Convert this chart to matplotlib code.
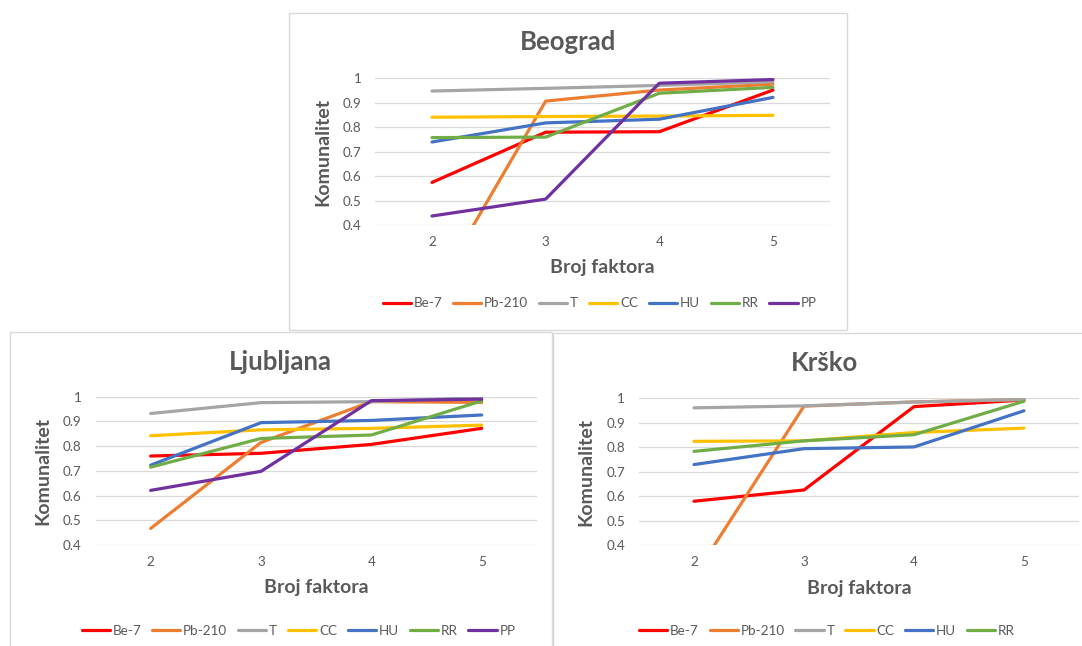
import numpy as np
import matplotlib
matplotlib.use('Agg')
import matplotlib.pyplot as plt
from matplotlib.patches import Rectangle

plt.rcParams['font.family'] = ['Lato', 'DejaVu Sans']

W, H = 1082, 646

broj_faktora = [2, 3, 4, 5]
serije = ['Be-7', 'Pb-210', 'T', 'CC', 'HU', 'RR', 'PP']
boje = ['#FF0000', '#ED7D31', '#A5A5A5', '#FFC000', '#4472C4', '#70AD47', '#7030A0']

beograd_be7 = [0.575, 0.780, 0.782, 0.952]
beograd_pb210 = [0.11, 0.907, 0.952, 0.976]
beograd_t = [0.948, 0.959, 0.971, 0.986]
beograd_cc = [0.841, 0.844, 0.846, 0.849]
beograd_hu = [0.740, 0.818, 0.833, 0.922]
beograd_rr = [0.758, 0.760, 0.939, 0.963]
beograd_pp = [0.438, 0.507, 0.980, 0.995]

ljubljana_be7 = [0.760, 0.771, 0.807, 0.872]
ljubljana_pb210 = [0.467, 0.815, 0.980, 0.977]
ljubljana_t = [0.932, 0.976, 0.980, 0.997]
ljubljana_cc = [0.842, 0.866, 0.872, 0.885]
ljubljana_hu = [0.723, 0.895, 0.904, 0.926]
ljubljana_rr = [0.715, 0.831, 0.845, 0.983]
ljubljana_pp = [0.621, 0.698, 0.984, 0.990]

krsko_be7 = [0.579, 0.625, 0.966, 0.993]
krsko_pb210 = [0.27, 0.968, 0.985, 0.995]
krsko_t = [0.961, 0.969, 0.985, 0.995]
krsko_cc = [0.824, 0.826, 0.860, 0.878]
krsko_hu = [0.729, 0.794, 0.801, 0.949]
krsko_rr = [0.783, 0.826, 0.851, 0.988]

y_ticks = [0.4, 0.5, 0.6, 0.7, 0.8, 0.9, 1.0]
y_tick_labels = ['0.4', '0.5', '0.6', '0.7', '0.8', '0.9', '1']

GRAY = '#595959'


def fx(x):
    return x / W


def fy(y):
    return 1 - y / H


def draw_panel(fig, naslov, podaci, frame, plot, title_y, xlabel_y, ylabel_x, legend_pos):
    # okvir grafikona
    fx0, fy0, fx1, fy1 = frame
    fig.patches.append(Rectangle((fx(fx0), fy(fy1)), fx(fx1) - fx(fx0), fy(fy0) - fy(fy1),
                                 transform=fig.transFigure, fill=False,
                                 edgecolor='#D9D9D9', linewidth=1.0, zorder=0))

    px0, py0, px1, py1 = plot
    ax = fig.add_axes([fx(px0), fy(py1), fx(px1) - fx(px0), fy(py0) - fy(py1)])

    handles = []
    for i, vals in enumerate(podaci):
        ln, = ax.plot(broj_faktora, vals, color=boje[i], linewidth=2.3,
                      solid_capstyle='round', solid_joinstyle='round',
                      label=serije[i], zorder=3)
        handles.append(ln)

    ax.set_xlim(1.5, 5.5)
    ax.set_ylim(0.4, 1.0)
    ax.set_yticks(y_ticks)
    ax.set_yticklabels(y_tick_labels)
    ax.set_xticks(broj_faktora)
    ax.grid(axis='y', color='#D9D9D9', linewidth=0.9)
    ax.set_axisbelow(True)
    for s in ax.spines.values():
        s.set_visible(False)
    ax.tick_params(axis='both', length=0, colors=GRAY, labelsize=9.7)
    ax.tick_params(axis='x', pad=8)
    ax.tick_params(axis='y', pad=10)
    ax.patch.set_alpha(0)

    cx_frame = (fx0 + fx1) / 2
    cx_plot = (px0 + px1) / 2
    cy_plot = (py0 + py1) / 2
    fig.text(fx(cx_frame), fy(title_y), naslov, ha='center', va='center',
             fontsize=18.5, fontweight='bold', color=GRAY)
    fig.text(fx(cx_plot), fy(xlabel_y), 'Broj faktora', ha='center', va='center',
             fontsize=14, fontweight='bold', color=GRAY)
    fig.text(fx(ylabel_x), fy(cy_plot), 'Komunalitet', ha='center', va='center',
             rotation=90, fontsize=14, fontweight='bold', color=GRAY)

    leg = fig.legend(handles=handles, loc='center', ncol=len(handles),
                     bbox_to_anchor=(fx(legend_pos[0]), fy(legend_pos[1])),
                     frameon=False, fontsize=9.7, handlelength=2.1,
                     handletextpad=0.2, columnspacing=0.8, borderaxespad=0)
    for t in leg.get_texts():
        t.set_color(GRAY)
    return ax


fig = plt.figure(figsize=(W / 100, H / 100), dpi=100)
fig.patch.set_facecolor('white')

draw_panel(fig, 'Beograd',
           [beograd_be7, beograd_pb210, beograd_t, beograd_cc, beograd_hu, beograd_rr, beograd_pp],
           frame=(288.5, 13.3, 846.7, 330),
           plot=(375.2, 78.3, 829.8, 225.3),
           title_y=42, xlabel_y=268, ylabel_x=323, legend_pos=(599.5, 303.3))

draw_panel(fig, 'Ljubljana',
           [ljubljana_be7, ljubljana_pb210, ljubljana_t, ljubljana_cc, ljubljana_hu, ljubljana_rr, ljubljana_pp],
           frame=(10, 331.7, 551.7, 660),
           plot=(95.5, 396.7, 536.9, 545),
           title_y=361.7, xlabel_y=588, ylabel_x=43, legend_pos=(298.5, 631))

draw_panel(fig, 'Krško',
           [krsko_be7, krsko_pb210, krsko_t, krsko_cc, krsko_hu, krsko_rr],
           frame=(553.3, 333.3, 1096, 660),
           plot=(639, 398.3, 1079, 545),
           title_y=363.3, xlabel_y=588.7, ylabel_x=585.7, legend_pos=(827, 631))

fig.savefig('out.png', dpi=100, facecolor='white')
